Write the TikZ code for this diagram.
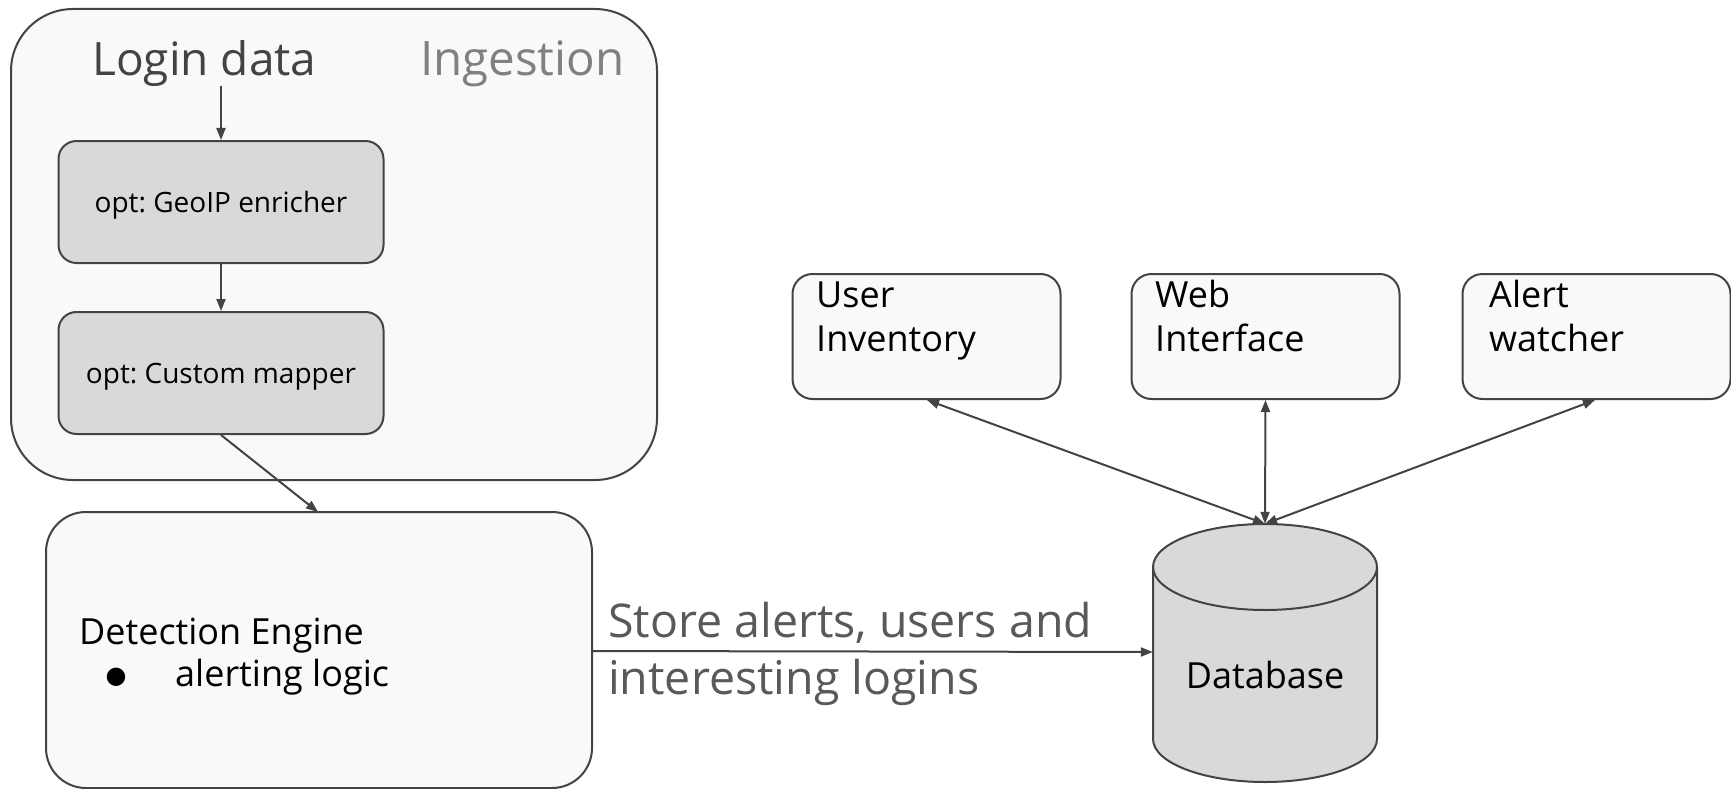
\documentclass[tikz,border=0pt]{standalone}
\usepackage{fontspec}
\setmainfont{Open Sans}
\newfontfamily\symfont{DejaVu Sans}
\frenchspacing
\usetikzlibrary{arrows.meta}
\definecolor{edge}{HTML}{434343}
\definecolor{pale}{HTML}{F9F9F9}
\definecolor{mid}{HTML}{D9D9D9}
\definecolor{titlegray}{HTML}{434343}
\definecolor{lightgray}{HTML}{808080}
\definecolor{labelgray}{HTML}{595959}
\begin{document}
\begin{tikzpicture}[x=1pt,y=-1pt,
  outer/.style={draw=edge,line width=2pt,fill=pale,inner sep=0pt},
  graybox/.style={draw=edge,line width=2pt,fill=mid,rounded corners=18pt,minimum width=325pt,minimum height=122pt,inner sep=0pt,text height=21pt,text depth=0pt,font=\fontsize{28}{32}\selectfont},
  topbox/.style={draw=edge,line width=2pt,fill=pale,rounded corners=20pt,minimum width=268pt,minimum height=125pt,inner sep=0pt},
  txt/.style={inner sep=0pt,anchor=base west},
  bodyfont/.style={font=\fontsize{36}{42}\selectfont},
  conn/.style={draw=edge,line width=2pt,-{Triangle[length=12pt,width=9pt]}},
  bi/.style={draw=edge,line width=2pt,{Triangle[length=12pt,width=9pt]}-{Triangle[length=12pt,width=9pt]}}]
\useasboundingbox[fill=white] (0,0) rectangle (1731,789);
% Ingestion container
\node[outer,rounded corners=62pt,minimum width=646pt,minimum height=471pt] (ing) at (334,244.5) {};
\node[txt,text=titlegray,font=\fontsize{46}{52}\selectfont] (login) at (92,76) {Login data};
\node[txt,text=lightgray,font=\fontsize{47.5}{52}\selectfont] (ingt) at (420,76) {Ingestion};
\node[graybox] (geo) at (221,202) {opt: GeoIP enricher};
\node[graybox] (map) at (221,373) {opt: Custom mapper};
% Detection engine
\node[outer,rounded corners=40pt,minimum width=546pt,minimum height=276pt] (det) at (319,650) {};
\node[txt,bodyfont] (dett) at (79,644) {Detection Engine};
\node[inner sep=0pt,font=\symfont\fontsize{24}{26}\selectfont] (bul) at (116,677) {●};
\node[txt,bodyfont] (alt) at (175,686) {alerting logic};
% Database
\fill[mid] (1153,567) -- (1153,739) arc[start angle=180,end angle=0,x radius=112,y radius=43] -- (1377,567) arc[start angle=0,end angle=-180,x radius=112,y radius=43] -- cycle;
\draw[edge,line width=2pt] (1153,567) -- (1153,739) arc[start angle=180,end angle=0,x radius=112,y radius=43] -- (1377,567);
\draw[edge,line width=2pt] (1265,567) ellipse[x radius=112,y radius=43];
\node[inner sep=0pt,minimum width=224pt,minimum height=258pt] (db) at (1265,653) {};
\node[inner sep=0pt,anchor=base,bodyfont] (dbt) at (1265,688) {Database};
% Top boxes
\node[topbox] (ui) at (926.5,336.5) {};
\node[topbox] (web) at (1265.5,336.5) {};
\node[topbox] (alw) at (1596.5,336.5) {};
\node[txt,bodyfont] (uit1) at (816,307) {User};
\node[txt,bodyfont] (uit2) at (816,351) {Inventory};
\node[txt,bodyfont] (wbt1) at (1155,307) {Web};
\node[txt,bodyfont] (wbt2) at (1155,351) {Interface};
\node[txt,bodyfont] (alt1) at (1489,307) {Alert};
\node[txt,bodyfont] (alt2) at (1489,351) {watcher};
% label
\node[txt,text=labelgray,font=\fontsize{46.5}{52}\selectfont] (lab1) at (608,637) {Store alerts, users and};
\node[txt,text=labelgray,font=\fontsize{46.5}{52}\selectfont] (lab2) at (608,694) {interesting logins};
% connectors
\coordinate (ls) at (221,86);
\draw[conn] (ls) -- (geo.north);
\draw[conn] (geo.south) -- (map.north);
\coordinate (dettop) at (318,512);
\draw[conn] (map.south) -- (dettop);
\draw[conn] (det.east |- 0,651) -- (db.west |- 0,652);
\draw[bi] (db.north) -- (ui.south -| 927,0);
\draw[bi] (db.north) -- (web.south);
\draw[bi] (db.north) -- (alw.south -| 1595,0);
\end{tikzpicture}
\end{document}
